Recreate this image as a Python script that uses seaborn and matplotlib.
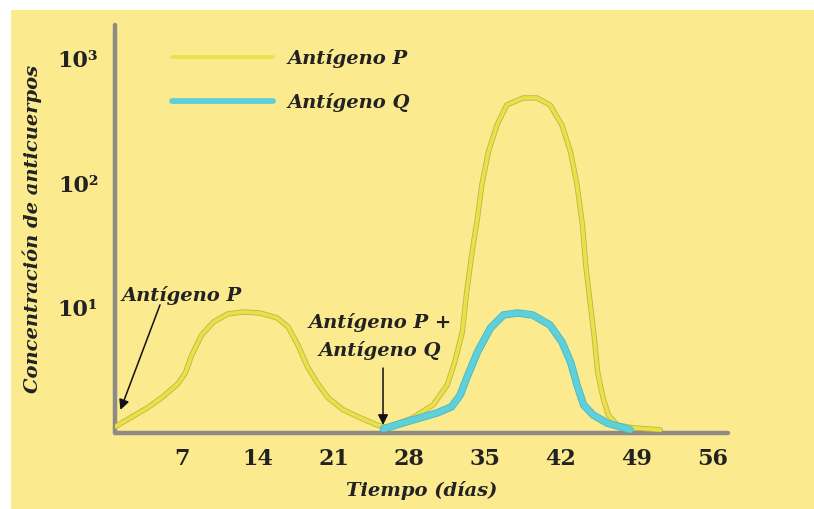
import numpy as np
import pandas as pd
import matplotlib
matplotlib.use('Agg')
import matplotlib.pyplot as plt
from matplotlib.patches import Rectangle
import seaborn as sns

# Datos (días, concentración de anticuerpos)
dias_p = [0.8, 2.2, 3.8, 5.2, 6.6, 7.3, 7.9, 8.8, 9.9, 11.2, 12.6, 14.2, 15.8, 16.8,
          17.7, 18.6, 19.5, 20.5, 21.9, 23.5, 25.0, 25.9,
          28.3, 30.2, 31.5, 32.2, 32.9, 33.3, 33.8, 34.3, 34.7, 35.3, 36.1, 37.0,
          38.5, 39.8, 41.0, 42.1, 42.9, 43.5, 44.0, 44.3, 44.7, 45.1, 45.4, 45.9,
          46.4, 47.2, 48.7, 51.2]
conc_p = [1.12, 1.32, 1.59, 1.94, 2.47, 3.02, 4.21, 6.08, 7.73, 8.95, 9.29, 9.12, 8.32, 7.05,
          5.06, 3.37, 2.51, 1.91, 1.53, 1.32, 1.16, 1.10,
          1.32, 1.68, 2.42, 3.70, 6.43, 13.4, 28.1, 52.5, 96.4, 177, 291, 421,
          479, 479, 421, 291, 177, 96.4, 46.1, 22.1, 11.2, 5.75, 3.08, 1.91,
          1.39, 1.16, 1.10, 1.06]

dias_q = [25.6, 28.3, 30.6, 31.9, 32.7, 33.3, 34.3, 35.5, 36.7, 38.0, 39.4, 41.0,
          42.1, 42.9, 43.5, 44.1, 45.0, 46.3, 47.5, 48.4]
conc_q = [1.08, 1.27, 1.45, 1.62, 2.01, 2.75, 4.45, 6.92, 8.79, 9.12, 8.79, 7.31,
          5.35, 3.70, 2.42, 1.68, 1.39, 1.20, 1.12, 1.06]

x_ticks = [7, 14, 21, 28, 35, 42, 49, 56]
y_ticks = [10, 100, 1000]
y_labels = ['10¹', '10²', '10³']

fondo = '#fbea8e'
color_p = '#e8e14a'
color_q = '#5fd0da'
gris = '#8e8a86'

df_p = pd.DataFrame({'dia': dias_p, 'conc': conc_p})
df_q = pd.DataFrame({'dia': dias_q, 'conc': conc_q})

sns.set_theme(style='white')
plt.rcParams['font.family'] = ['DejaVu Serif']

fig = plt.figure(figsize=(8.14, 5.09), dpi=100)
fig.patch.set_facecolor('white')
fig.patches.append(Rectangle((11 / 814, 0), 1, 1 - 10 / 509, transform=fig.transFigure,
                             facecolor=fondo, edgecolor='none', zorder=-10))

ax = fig.add_axes([115 / 814, 76 / 509, 613 / 814, 408 / 509])
ax.set_facecolor('none')

# contorno oscuro + línea de color
sns.lineplot(data=df_p, x='dia', y='conc', ax=ax, color='#bdb23e', linewidth=3.8,
             sort=False, zorder=3)
sns.lineplot(data=df_p, x='dia', y='conc', ax=ax, color=color_p, linewidth=2.7,
             sort=False, zorder=4)
sns.lineplot(data=df_q, x='dia', y='conc', ax=ax, color='#48b8c4', linewidth=5.4,
             sort=False, zorder=5)
sns.lineplot(data=df_q, x='dia', y='conc', ax=ax, color=color_q, linewidth=4.2,
             sort=False, zorder=6)
for ln in ax.get_lines():
    ln.set_solid_joinstyle('round')
    ln.set_solid_capstyle('round')

ax.set_yscale('log')
ax.set_xlim(0.8, 57.45)
ax.set_ylim(1, 10 ** 3.264)

ax.set_xticks(x_ticks)
ax.set_xticklabels([str(t) for t in x_ticks])
ax.set_yticks(y_ticks)
ax.set_yticklabels(y_labels)
ax.yaxis.set_minor_locator(matplotlib.ticker.NullLocator())
ax.tick_params(axis='both', length=0, labelsize=16, colors='#222222')
ax.tick_params(axis='x', pad=11)
ax.tick_params(axis='y', pad=12)
for lab in ax.get_xticklabels() + ax.get_yticklabels():
    lab.set_fontweight('bold')

for s in ['top', 'right']:
    ax.spines[s].set_visible(False)
for s in ['left', 'bottom']:
    ax.spines[s].set_color(gris)
    ax.spines[s].set_linewidth(3.2)
    ax.spines[s].set_capstyle('round')

ax.set_xlabel('Tiempo (días)', fontsize=14, fontweight='bold', fontstyle='italic',
              color='#222222', labelpad=8)
ax.set_ylabel('Concentración de anticuerpos', fontsize=14, fontweight='bold',
              fontstyle='italic', color='#222222', labelpad=11)

# leyenda
h_p, = ax.plot([], [], color=color_p, linewidth=2.7)
h_q, = ax.plot([], [], color=color_q, linewidth=4.2)
leg = ax.legend([h_p, h_q], ['Antígeno P', 'Antígeno Q'], loc='upper left',
                bbox_to_anchor=(0.065, 0.985), frameon=False, handlelength=5.2,
                handletextpad=0.7, labelspacing=1.3,
                prop={'family': 'DejaVu Serif', 'weight': 'bold', 'style': 'italic', 'size': 14})
for t in leg.get_texts():
    t.set_color('#222222')

# anotaciones con flechas
estilo = dict(fontsize=14, fontweight='bold', fontstyle='italic', color='#222222')
flecha = dict(arrowstyle='-|>', color='#111111', lw=1.1, mutation_scale=15,
              shrinkA=0, shrinkB=0)
ax.text(7.0, 12.7, 'Antígeno P', ha='center', va='center', **estilo)
ax.annotate('', xy=(1.3, 1.53), xytext=(4.96, 10.6), arrowprops=flecha)
ax.text(25.3, 5.97, 'Antígeno P +\nAntígeno Q', ha='center', va='center',
        linespacing=1.6, **estilo)
ax.annotate('', xy=(25.57, 1.16), xytext=(25.57, 3.31), arrowprops=flecha)

plt.savefig('out.png', dpi=100)
